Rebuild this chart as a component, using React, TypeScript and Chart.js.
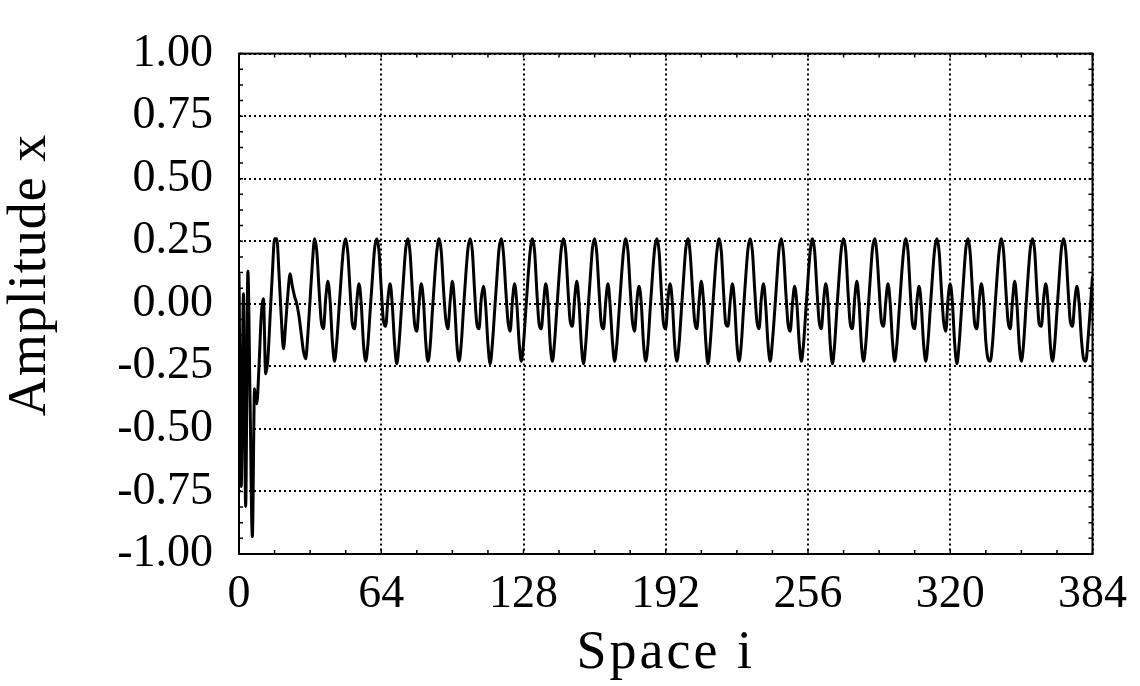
import React, { useEffect, useRef } from "react";
import { Chart, registerables } from "chart.js";

Chart.register(...registerables);

// Space index i (0..384)
const xTicks = [0, 64, 128, 192, 256, 320, 384];
const yTicks = [-1.0, -0.75, -0.5, -0.25, 0.0, 0.25, 0.5, 0.75, 1.0];

// Transient part i = 0..33
const transient = [
  0.12, -0.73, 0.04, -0.81, 0.13, -0.4, -0.93, -0.34, -0.4, -0.25,
  -0.05, 0.02, -0.28, -0.22, -0.05, 0.12, 0.26, 0.26, 0.12, -0.05,
  -0.18, -0.08, 0.04, 0.12, 0.07, 0.03, 0.0, -0.05, -0.12, -0.19,
  -0.22, -0.12, 0.02, 0.16,
];

// Steady oscillation i = 34..384
const steady = [
  0.26, 0.21, 0.06, -0.07, -0.10, 0.02, 0.09, 0.01, -0.15, -0.23, -0.15, -0.02, 0.11, 0.22,
  0.26, 0.20, 0.05, -0.08, -0.10, 0.01, 0.08, 0.00, -0.16, -0.23, -0.16, -0.03, 0.10, 0.22,
  0.26, 0.21, 0.06, -0.07, -0.09, 0.02, 0.08, -0.01, -0.16, -0.24, -0.16, -0.03, 0.10, 0.22,
  0.26, 0.20, 0.05, -0.08, -0.11, 0.00, 0.08, 0.01, -0.15, -0.23, -0.17, -0.03, 0.10, 0.21,
  0.26, 0.21, 0.06, -0.06, -0.10, 0.01, 0.09, 0.00, -0.16, -0.23, -0.16, -0.02, 0.11, 0.22,
  0.26, 0.21, 0.05, -0.08, -0.10, 0.02, 0.07, -0.01, -0.16, -0.24, -0.16, -0.03, 0.10, 0.22,
  0.26, 0.20, 0.06, -0.07, -0.11, 0.01, 0.08, 0.00, -0.15, -0.23, -0.16, -0.03, 0.10, 0.21,
  0.26, 0.21, 0.05, -0.08, -0.10, 0.00, 0.08, 0.01, -0.16, -0.23, -0.15, -0.02, 0.11, 0.22,
  0.26, 0.21, 0.06, -0.07, -0.09, 0.02, 0.09, 0.00, -0.16, -0.24, -0.16, -0.03, 0.10, 0.22,
  0.26, 0.20, 0.05, -0.08, -0.10, 0.01, 0.08, -0.01, -0.15, -0.23, -0.16, -0.03, 0.10, 0.21,
  0.26, 0.21, 0.06, -0.07, -0.11, 0.01, 0.07, 0.00, -0.16, -0.23, -0.16, -0.02, 0.11, 0.22,
  0.26, 0.21, 0.05, -0.08, -0.10, 0.02, 0.08, 0.00, -0.16, -0.23, -0.16, -0.03, 0.10, 0.22,
  0.26, 0.20, 0.06, -0.07, -0.10, 0.01, 0.09, 0.01, -0.15, -0.24, -0.16, -0.03, 0.10, 0.21,
  0.26, 0.21, 0.05, -0.08, -0.09, 0.01, 0.08, 0.00, -0.16, -0.23, -0.16, -0.02, 0.11, 0.22,
  0.26, 0.21, 0.06, -0.07, -0.10, 0.02, 0.08, -0.01, -0.16, -0.23, -0.15, -0.03, 0.10, 0.22,
  0.26, 0.20, 0.05, -0.08, -0.11, 0.00, 0.07, 0.00, -0.15, -0.23, -0.16, -0.03, 0.10, 0.21,
  0.26, 0.21, 0.06, -0.07, -0.10, 0.01, 0.08, 0.01, -0.16, -0.24, -0.16, -0.02, 0.11, 0.22,
  0.26, 0.21, 0.05, -0.08, -0.10, 0.02, 0.09, 0.00, -0.16, -0.23, -0.16, -0.03, 0.10, 0.22,
  0.26, 0.20, 0.06, -0.07, -0.09, 0.01, 0.08, 0.00, -0.15, -0.23, -0.16, -0.03, 0.10, 0.21,
  0.26, 0.21, 0.05, -0.08, -0.10, 0.01, 0.07, -0.01, -0.16, -0.23, -0.15, -0.02, 0.11, 0.22,
  0.26, 0.21, 0.06, -0.07, -0.11, 0.02, 0.08, 0.00, -0.16, -0.24, -0.16, -0.03, 0.10, 0.22,
  0.26, 0.20, 0.05, -0.08, -0.10, 0.01, 0.08, 0.01, -0.15, -0.22, -0.23, -0.16, -0.03, 0.10, 0.21,
  0.26, 0.21, 0.06, -0.07, -0.10, 0.01, 0.09, 0.00, -0.16, -0.23, -0.16, -0.02, 0.11, 0.22,
  0.26, 0.21, 0.05, -0.08, -0.09, 0.02, 0.08, 0.00, -0.16, -0.23, -0.16, -0.03, 0.10, 0.22,
  0.26, 0.21, 0.06, -0.07, -0.09, 0.01, 0.07, 0.00, -0.14, -0.22, -0.23, -0.14, -0.02, 0.11,
];

const amplitude = [...transient, ...steady];
const spaceI = amplitude.map((_, i) => i);

const FONT = "'Liberation Serif', 'Times New Roman', serif";

const framePlugin = {
  id: "frame",
  afterDraw(chart: any) {
    const { ctx, chartArea, scales } = chart;
    const { left, right, top, bottom } = chartArea;
    ctx.save();
    ctx.strokeStyle = "#000";
    ctx.lineWidth = 1.5;
    // minor ticks (inward)
    const tl = 4;
    for (let v = 0; v <= 384; v += 16) {
      const px = scales.x.getPixelForValue(v);
      ctx.beginPath();
      ctx.moveTo(px, bottom);
      ctx.lineTo(px, bottom - tl);
      ctx.moveTo(px, top);
      ctx.lineTo(px, top + tl);
      ctx.stroke();
    }
    for (let k = 0; k <= 32; k++) {
      const v = -1 + k * 0.0625;
      const py = scales.y.getPixelForValue(v);
      ctx.beginPath();
      ctx.moveTo(left, py);
      ctx.lineTo(left + tl, py);
      ctx.moveTo(right, py);
      ctx.lineTo(right - tl, py);
      ctx.stroke();
    }
    // frame
    ctx.lineWidth = 2;
    ctx.strokeRect(left, top, right - left, bottom - top);
    // titles
    ctx.fillStyle = "#000";
    ctx.font = `54px ${FONT}`;
    ctx.textAlign = "center";
    ctx.textBaseline = "middle";
    (ctx as any).letterSpacing = "3px";
    ctx.fillText("Space i", (left + right) / 2, 654);
    ctx.translate(31, 275);
    ctx.rotate(-Math.PI / 2);
    (ctx as any).letterSpacing = "1px";
    ctx.fillText("Amplitude x", 0, 0);
    ctx.restore();
  },
};

export default function App() {
  const ref = useRef<HTMLCanvasElement>(null);
  useEffect(() => {
    if (!ref.current) return;
    const chart = new Chart(ref.current, {
      type: "line",
      data: {
        datasets: [
          {
            data: spaceI.map((x, i) => ({ x, y: amplitude[i] })),
            borderColor: "#000",
            borderWidth: 3,
            pointRadius: 0,
            cubicInterpolationMode: "monotone",
            fill: false,
          },
        ],
      },
      options: {
        animation: false,
        responsive: false,
        maintainAspectRatio: false,
        events: [],
        layout: { padding: { top: 29, right: 45, left: 0, bottom: 0 } },
        plugins: { legend: { display: false }, tooltip: { enabled: false } },
        scales: {
          x: {
            type: "linear",
            min: 0,
            max: 384,
            afterBuildTicks: (s: any) => {
              s.ticks = xTicks.map((v) => ({ value: v }));
            },
            afterFit: (s: any) => {
              s.height = 132;
            },
            ticks: {
              color: "#000",
              font: { family: FONT, size: 46 },
              padding: 13,
              maxRotation: 0,
              autoSkip: false,
              callback: (v: any) => String(v),
            },
            grid: {
              color: "#000",
              lineWidth: 2,
              drawTicks: false,
            },
            border: { display: false, dash: [2, 3] },
          },
          y: {
            type: "linear",
            min: -1,
            max: 1,
            afterBuildTicks: (s: any) => {
              s.ticks = yTicks.map((v) => ({ value: v }));
            },
            afterFit: (s: any) => {
              s.width = 239;
            },
            ticks: {
              color: "#000",
              font: { family: FONT, size: 46 },
              padding: 26,
              autoSkip: false,
              callback: (v: any) => Number(v).toFixed(2),
            },
            grid: {
              color: "#000",
              lineWidth: 2,
              drawTicks: false,
            },
            border: { display: false, dash: [2, 3] },
          },
        },
      },
      plugins: [framePlugin],
    });
    return () => chart.destroy();
  }, []);
  return (
    <div style={{ position: "fixed", left: 0, top: 0, width: 1140, height: 686, background: "#fff" }}>
      <canvas ref={ref} width={1140} height={686} style={{ width: 1140, height: 686 }} />
    </div>
  );
}
